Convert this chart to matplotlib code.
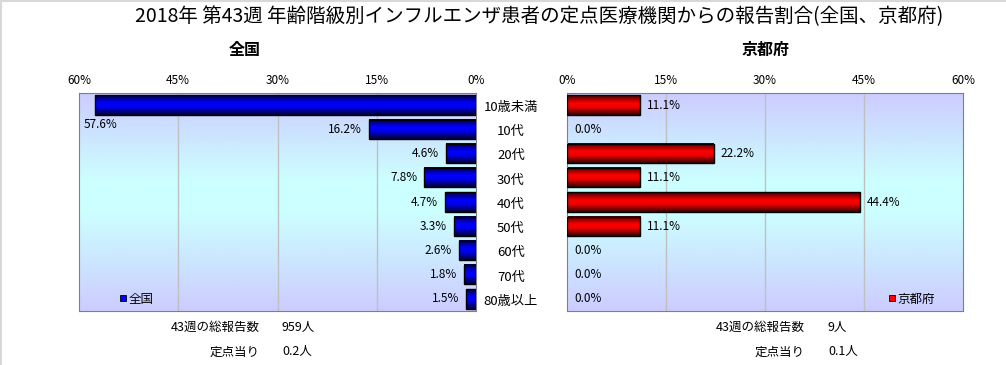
import numpy as np
import matplotlib
matplotlib.use("Agg")
import matplotlib.pyplot as plt
from matplotlib.colors import LinearSegmentedColormap
from matplotlib.lines import Line2D
import matplotlib.transforms as mtransforms

plt.rcParams["font.family"] = ["Noto Sans CJK JP", "DejaVu Sans"]

# data
categories = ["10歳未満", "10代", "20代", "30代", "40代", "50代", "60代", "70代", "80歳以上"]
zenkoku = [57.6, 16.2, 4.6, 7.8, 4.7, 3.3, 2.6, 1.8, 1.5]
kyoto = [11.1, 0.0, 22.2, 11.1, 44.4, 11.1, 0.0, 0.0, 0.0]
ticks = [0, 15, 30, 45, 60]
tick_labels = ["0%", "15%", "30%", "45%", "60%"]
title = "2018年 第43週 年齢階級別インフルエンザ患者の定点医療機関からの報告割合(全国、京都府)"
week_label = "43週の総報告数"
per_label = "定点当り"
zenkoku_total = "959人"
zenkoku_per = "0.2人"
kyoto_total = "9人"
kyoto_per = "0.1人"

W, H = 1006, 365
fig = plt.figure(figsize=(W / 100, H / 100), dpi=100)

def px(x0, y0, x1, y1):
    return [x0 / W, 1 - y1 / H, (x1 - x0) / W, (y1 - y0) / H]

ax_l = fig.add_axes(px(79, 93, 476, 311))
ax_r = fig.add_axes(px(567, 93, 963, 311))

bg_cmap = LinearSegmentedColormap.from_list(
    "bg", [(0, "#CCCCFF"), (0.4, "#CCFFFF"), (0.55, "#CCFFFF"), (1, "#CCCCFF")])
blue_cmap = LinearSegmentedColormap.from_list(
    "bl", [(0, "#000040"), (0.4, "#0000FF"), (0.6, "#0000F0"), (1, "#000030")])
red_cmap = LinearSegmentedColormap.from_list(
    "rd", [(0, "#400000"), (0.4, "#FF0000"), (0.6, "#F00000"), (1, "#300000")])
grad = np.linspace(0, 1, 256).reshape(-1, 1)

n = len(categories)
y = np.arange(n)
bh = 0.8


def draw_panel(ax, values, cmap, xlim):
    ax.imshow(grad, cmap=bg_cmap, aspect="auto", extent=(0, 60, n - 0.5, -0.5), zorder=0)
    for xi in [15, 30, 45]:
        ax.axvline(xi, color="#C0C0C0", lw=1, zorder=1)
    edges = ["black" if v > 0 else "none" for v in values]
    bars = ax.barh(y, values, height=bh, color="none", edgecolor=edges, lw=1, zorder=3)
    for b, v in zip(bars, values):
        if v <= 0:
            continue
        ax.imshow(grad, cmap=cmap, aspect="auto",
                  extent=(0, v, b.get_y() + bh, b.get_y()), zorder=2)
    ax.set_xlim(*xlim)
    ax.set_ylim(n - 0.5, -0.5)
    ax.xaxis.tick_top()
    ax.set_xticks(ticks)
    ax.set_xticklabels(tick_labels, fontsize=8.5)
    ax.tick_params(axis="x", length=0, pad=4)
    ax.set_yticks([])
    for s in ax.spines.values():
        s.set_color("#808080")
    return bars


draw_panel(ax_l, zenkoku, blue_cmap, (60, 0))
draw_panel(ax_r, kyoto, red_cmap, (0, 60))

# data labels
for i, v in enumerate(zenkoku):
    if v > 55:
        ax_l.annotate(f"{v:.1f}%", (60, i + 0.8), xytext=(3, 0), textcoords="offset points",
                      ha="left", va="center", fontsize=8.5)
    else:
        ax_l.annotate(f"{v:.1f}%", (v, i), xytext=(-5, 0), textcoords="offset points",
                      ha="right", va="center", fontsize=8.5)
for i, v in enumerate(kyoto):
    ax_r.annotate(f"{v:.1f}%", (v, i), xytext=(5, 0), textcoords="offset points",
                  ha="left", va="center", fontsize=8.5)

# category labels between the panels
tr = mtransforms.blended_transform_factory(fig.transFigure, ax_l.transData)
for i, c in enumerate(categories):
    ax_l.text(511 / W, i + 0.1, c, transform=tr, ha="center", va="center", fontsize=9.5,
              clip_on=False)

# legends
h_l = Line2D([], [], marker="s", ls="none", markersize=5, markerfacecolor="#0000FF",
             markeredgecolor="black", markeredgewidth=0.6)
h_r = Line2D([], [], marker="s", ls="none", markersize=5, markerfacecolor="#FF0000",
             markeredgecolor="black", markeredgewidth=0.6)
ax_l.legend([h_l], ["全国"], loc="lower left", bbox_to_anchor=(0.08, -0.015), frameon=False,
            fontsize=9, handlelength=0.6, handletextpad=0.1, borderpad=0.2)
ax_r.legend([h_r], ["京都府"], loc="lower left", bbox_to_anchor=(0.79, -0.015), frameon=False,
            fontsize=9, handlelength=0.6, handletextpad=0.1, borderpad=0.2)

# titles
fig.text(539 / W, 1 - 17 / H, title, ha="center", va="center", fontsize=14)
fig.text(245 / W, 1 - 50 / H, "全国", ha="center", va="center", fontsize=11.5, fontweight="bold")
fig.text(766 / W, 1 - 50 / H, "京都府", ha="center", va="center", fontsize=11.5, fontweight="bold")

# footer
for xr, xv, total, per in [(260, 282, zenkoku_total, zenkoku_per), (805, 828, kyoto_total, kyoto_per)]:
    fig.text(xr / W, 1 - 327 / H, week_label, ha="right", va="center", fontsize=9)
    fig.text(xv / W, 1 - 327 / H, total, ha="left", va="center", fontsize=9)
    fig.text(xr / W, 1 - 352 / H, per_label, ha="right", va="center", fontsize=9)
    fig.text(xv / W, 1 - 352 / H, per, ha="left", va="center", fontsize=9)

# light frame at top/left
fig.add_artist(Line2D([0.001, 0.001], [0, 1 - 1 / H], transform=fig.transFigure, color="#D8D8D8", lw=1.5))
fig.add_artist(Line2D([0.001, 1], [1 - 1 / H, 1 - 1 / H], transform=fig.transFigure, color="#D8D8D8", lw=1.5))

fig.savefig("out.png", dpi=100)
